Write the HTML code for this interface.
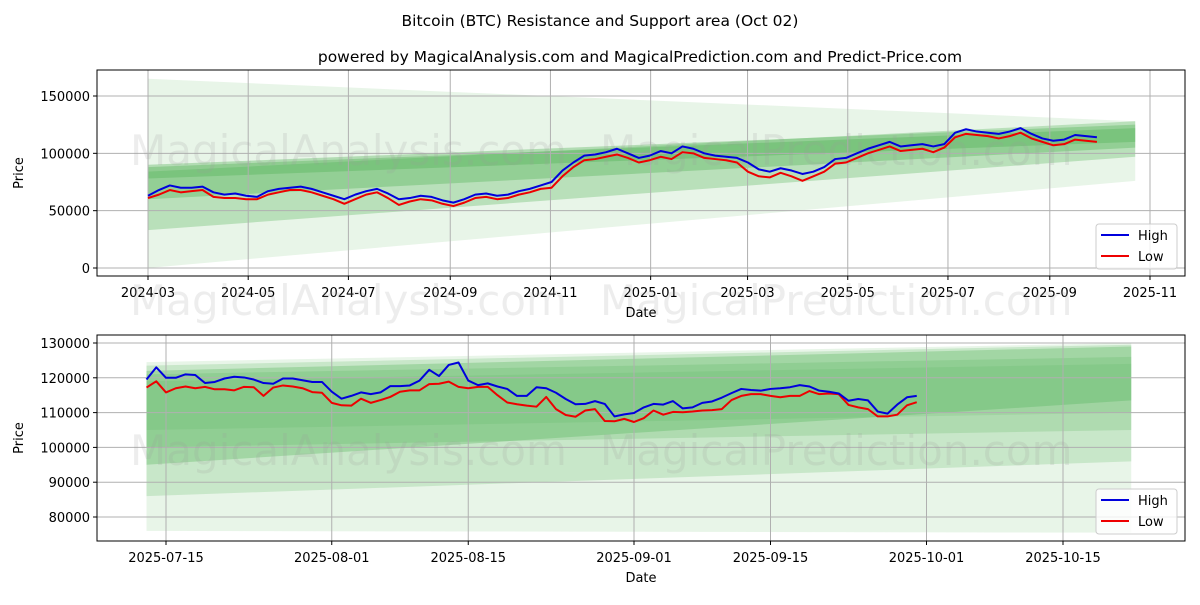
<!DOCTYPE html>
<html><head><meta charset="utf-8"><style>
body{margin:0;background:#fff;font-family:"Liberation Sans","DejaVu Sans",sans-serif}
svg text{font-family:"DejaVu Sans","Liberation Sans",sans-serif}
</style></head><body>
<svg id="c" width="1200" height="600" xmlns="http://www.w3.org/2000/svg">
<text x="600" y="26" font-size="15.5" text-anchor="middle">Bitcoin (BTC) Resistance and Support area (Oct 02)</text>
<text x="640" y="62" font-size="15.5" text-anchor="middle">powered by MagicalAnalysis.com and MagicalPrediction.com and Predict-Price.com</text>
</svg>
<script>
// ---- top chart data (weekly samples from 2024-03-01) ----
const topHigh=[63000,68000,72000,70000,70000,71000,66000,64000,65000,63000,62000,67000,69000,70000,71000,69000,66000,63000,60000,64000,67000,69000,65000,60000,61000,63000,62000,59000,57000,60000,64000,65000,63000,64000,67000,69000,72000,75000,85000,92000,98000,99000,101000,104000,100000,96000,98000,102000,100000,106000,104000,100000,98000,97000,96000,92000,86000,84000,87000,85000,82000,84000,88000,95000,96000,100000,104000,107000,110000,106000,107000,108000,106000,108000,118000,121000,119000,118000,117000,119000,122000,117000,113000,111000,112000,116000,115000,114000];
const topLowVals=[61000,64000,68000,66000,67000,68000,62000,61000,61000,60000,60000,64000,66000,68000,68000,66000,63000,60000,56000,60000,64000,66000,61000,55000,58000,60000,59000,56000,54000,57000,61000,62000,60000,61000,64000,66000,69000,70000,80000,88000,94000,95000,97000,99000,96000,92000,94000,97000,95000,101000,100000,96000,95000,94000,92000,84000,80000,79000,83000,80000,76000,80000,84000,91000,92000,96000,100000,103000,106000,102000,103000,104000,101000,105000,114000,117000,116000,115000,113000,115000,118000,113000,110000,107000,108000,112000,111000,110000];
const topTicksY=[0,50000,100000,150000];
const topTicksX=["2024-03","2024-05","2024-07","2024-09","2024-11","2025-01","2025-03","2025-05","2025-07","2025-09","2025-11"];
// bands: [startLow,startHigh,endLow,endHigh,opacity]
const topBands=[[0,165000,76000,128000,0.13],[33000,84000,97000,128000,0.3],[60000,90000,105000,125000,0.35],[78000,88000,110000,122000,0.35]];
// ---- bottom chart data (daily from 2025-07-13) ----
const botHigh=[119500,123000,120000,120000,121000,120800,118500,118800,119800,120300,120100,119500,118500,118300,119800,119800,119300,118800,118800,116000,114000,114800,115800,115300,115800,117600,117600,117800,119200,122300,120500,123700,124400,119200,117900,118400,117500,116800,114800,114800,117300,117000,115700,113900,112400,112500,113300,112500,108900,109500,109900,111500,112500,112300,113300,111200,111500,112800,113200,114300,115600,116800,116500,116300,116800,117000,117300,117900,117500,116300,116000,115500,113400,113900,113500,110300,109700,112300,114400,114800];
const botLow=[117200,119000,115800,117000,117500,117000,117400,116700,116700,116400,117400,117300,114800,117200,117800,117500,117000,115900,115700,112800,112100,112000,114000,112800,113600,114500,116000,116400,116400,118200,118300,118900,117400,117000,117400,117400,115000,112900,112400,112000,111700,114500,111000,109300,108800,110600,111000,107600,107500,108200,107300,108400,110600,109400,110200,110100,110300,110600,110700,111000,113600,114800,115300,115300,114800,114400,114800,114800,116200,115300,115500,115300,112200,111500,111000,108900,108900,109400,112100,113000];
const botTicksY=[80000,90000,100000,110000,120000,130000];
const botTicksX=["2025-07-15","2025-08-01","2025-08-15","2025-09-01","2025-09-15","2025-10-01","2025-10-15"];
const botBands=[[76000,124500,75500,130000,0.13],[86000,123500,96000,129500,0.2],[95000,122000,113500,129000,0.3],[100000,121000,105000,126000,0.2],[105000,119000,110000,124000,0.15]];

const S=document.getElementById('c'),NS='http://www.w3.org/2000/svg';
function mk(t,a,txt){const e=document.createElementNS(NS,t);for(const k in a)e.setAttribute(k,a[k]);if(txt!==undefined)e.textContent=txt;S.appendChild(e);return e;}
const DAY=864e5;
function dt(s){const p=s.split('-');return Date.UTC(+p[0],+p[1]-1,p[2]?+p[2]:1);}

function panel(o){
 const {L,R,T,B,x0d,pxd,ymax,ymin,yT,yB,name}=o;
 const X=t=>x0d+(t-o.xref)/DAY*pxd;
 const Y=v=>yT+(ymax-v)/(ymax-ymin)*(yB-yT);
 const bs=o.bStart,be=o.bEnd;
 o.bands.forEach((b,i)=>{const p=mk('polygon',{points:`${X(bs)},${Y(b[0])} ${X(bs)},${Y(b[1])} ${X(be)},${Y(b[3])} ${X(be)},${Y(b[2])}`,fill:'#4caf50','fill-opacity':b[4]});
  });
 o.ty.forEach(v=>{const y=Y(v);
  const g=mk('line',{x1:L,x2:R,y1:y,y2:y,stroke:'#b0b0b0','stroke-width':1});
  mk('line',{x1:L-4,x2:L,y1:y,y2:y,stroke:'#000'});
  const t=mk('text',{x:L-7,y:y+5,'font-size':13,'text-anchor':'end'},String(v));});
 o.tx.forEach(s=>{const x=X(dt(s));
  const g=mk('line',{x1:x,x2:x,y1:T,y2:B,stroke:'#b0b0b0','stroke-width':1});
  mk('line',{x1:x,x2:x,y1:B,y2:B+4,stroke:'#000'});
  const t=mk('text',{x:x,y:B+21,'font-size':13,'text-anchor':'middle'},s);});
 o.wm.forEach(w=>{const t=mk('text',{x:w[0],y:w[1],'font-size':42,fill:'#999','fill-opacity':0.18},w[2]);});
 const line=(arr,col,nm)=>{const pts=arr.map((v,i)=>X(o.d0+i*o.step*DAY)+','+Y(v)).join(' ');
  const p=mk('polyline',{points:pts,fill:'none',stroke:col,'stroke-width':2,'stroke-linejoin':'round'});};
 line(o.low,'#ee0000',name+'-low-line');line(o.high,'#0000dd',name+'-high-line');
 const f=mk('rect',{x:L,y:T,width:R-L,height:B-T,fill:'none',stroke:'#000','stroke-width':1});
 const yl=mk('text',{x:0,y:0,'font-size':13,'text-anchor':'middle',transform:`translate(${L-74},${(T+B)/2}) rotate(-90)`},'Price');
 const xl=mk('text',{x:(L+R)/2,y:B+41,'font-size':13,'text-anchor':'middle'},'Date');
 const lx=R-89,ly=B-52;
 const lg=mk('rect',{x:lx,y:ly,width:81,height:45,rx:3,fill:'#fff','fill-opacity':0.8,stroke:'#ccc'});
 mk('line',{x1:lx+5,x2:lx+33,y1:ly+11,y2:ly+11,stroke:'#0000dd','stroke-width':2});
 const a=mk('text',{x:lx+42,y:ly+16,'font-size':13},'High');
 mk('line',{x1:lx+5,x2:lx+33,y1:ly+32,y2:ly+32,stroke:'#ee0000','stroke-width':2});
 const b=mk('text',{x:lx+42,y:ly+37,'font-size':13},'Low');
}
panel({name:'top',L:97,R:1185,T:70,B:276,xref:dt('2024-03-01'),x0d:148,pxd:1002/610,ymax:150000,ymin:0,yT:96,yB:268,
 ty:topTicksY,tx:topTicksX,bands:topBands,bStart:dt('2024-03-01'),bEnd:dt('2025-10-23'),
 high:topHigh,low:topLowVals,d0:dt('2024-03-01'),step:6.64,
 wm:[[130,165,'MagicalAnalysis.com'],[600,165,'MagicalPrediction.com'],[130,315,'MagicalAnalysis.com'],[600,315,'MagicalPrediction.com']]});
panel({name:'bottom',L:97,R:1185,T:335,B:541,xref:dt('2025-07-15'),x0d:166,pxd:897/92,ymax:130000,ymin:80000,yT:343,yB:517,
 ty:botTicksY,tx:botTicksX,bands:botBands,bStart:dt('2025-07-13'),bEnd:dt('2025-10-22'),
 high:botHigh,low:botLow,d0:dt('2025-07-13'),step:1,
 wm:[[130,465,'MagicalAnalysis.com'],[600,465,'MagicalPrediction.com']]});
</script>
</body></html>
